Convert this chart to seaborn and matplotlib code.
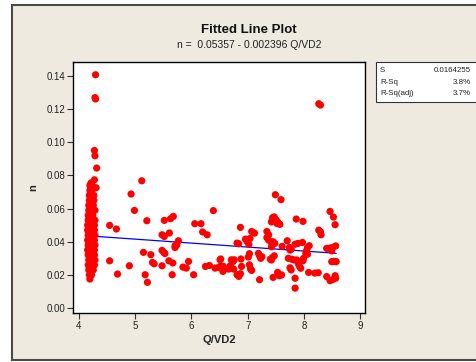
import matplotlib
matplotlib.use("Agg")
import matplotlib.pyplot as plt
import matplotlib.patches as mpatches
import numpy as np
import pandas as pd
import seaborn as sns

# ---- data ----
cluster_x = [4.20,
             4.19, 4.23,
             4.18, 4.22, 4.26,
             4.17, 4.21, 4.25, 4.28,
             4.18, 4.22, 4.26, 4.29,
             4.17, 4.21, 4.25, 4.28,
             4.16, 4.20, 4.24, 4.28,
             4.17, 4.21, 4.25, 4.29,
             4.16, 4.20, 4.24, 4.28,
             4.17, 4.21, 4.25, 4.29,
             4.16, 4.20, 4.24, 4.28,
             4.16, 4.20, 4.24, 4.28,
             4.17, 4.21, 4.25, 4.29,
             4.17, 4.21, 4.25,
             4.18, 4.22, 4.26, 4.29,
             4.18, 4.22, 4.26,
             4.19, 4.23, 4.27,
             4.19, 4.23, 4.27,
             4.20, 4.24,
             4.20, 4.24,
             4.22]
cluster_y = [0.0175,
             0.020, 0.020,
             0.023, 0.023, 0.023,
             0.026, 0.026, 0.026, 0.026,
             0.029, 0.029, 0.029, 0.029,
             0.032, 0.032, 0.032, 0.032,
             0.035, 0.035, 0.035, 0.035,
             0.038, 0.038, 0.038, 0.038,
             0.041, 0.041, 0.041, 0.041,
             0.044, 0.044, 0.044, 0.044,
             0.047, 0.047, 0.047, 0.047,
             0.050, 0.050, 0.050, 0.050,
             0.053, 0.053, 0.053, 0.053,
             0.056, 0.056, 0.056,
             0.059, 0.059, 0.059, 0.059,
             0.062, 0.062, 0.062,
             0.065, 0.065, 0.065,
             0.068, 0.068, 0.068,
             0.071, 0.071,
             0.074, 0.074,
             0.0755]

scatter_x = [4.30, 4.29, 4.30, 4.28, 4.29, 4.32, 4.28, 4.31,
             4.55, 4.67, 4.55, 4.69, 4.90, 4.93, 4.99, 5.12, 5.21, 5.15, 5.18, 5.22,
             5.28, 5.31, 5.34, 5.48, 5.52, 5.52, 5.48, 5.51, 5.53, 5.48, 5.60, 5.61,
             5.63, 5.68, 5.66, 5.67, 5.71, 5.71, 5.74, 5.77, 5.85, 5.91, 5.95, 6.04,
             6.06, 6.17, 6.20, 6.28, 6.25, 6.32,
             6.39, 6.42, 6.48, 6.51, 6.52, 6.57, 6.56, 6.66, 6.71, 6.76, 6.75, 6.81,
             6.87, 6.84, 6.88, 6.89, 6.87, 6.81, 6.84, 6.96, 6.99, 7.02, 7.04, 7.07,
             7.12, 7.03, 7.01, 7.03, 7.05, 7.07, 7.19, 7.21, 7.23, 7.25, 7.21, 7.34,
             7.37, 7.34, 7.37, 7.42, 7.45, 7.48, 7.42, 7.42, 7.44, 7.47, 7.45, 7.51,
             7.54, 7.57, 7.52, 7.49, 7.59, 7.40, 7.42, 7.44, 7.47, 7.45, 7.53, 7.56,
             7.60, 7.70, 7.61, 7.74, 7.77, 7.75, 7.72, 7.78, 7.82, 7.75, 7.77, 7.84,
             7.84, 7.86, 7.98, 7.84, 7.89, 7.97, 7.87, 7.90, 7.92, 7.94, 7.99, 7.98,
             8.04, 8.06, 8.09, 8.03, 8.06, 8.08, 8.19, 8.25, 8.26, 8.29, 8.26, 8.29,
             8.30, 8.40, 8.46, 8.51, 8.56, 8.49, 8.46, 8.52, 8.55, 8.49, 8.53, 8.57,
             8.40, 8.46, 8.51, 8.56, 8.55, 6.52, 6.69, 6.74]
scatter_y = [0.1408, 0.1270, 0.1262, 0.0951, 0.0919, 0.0845, 0.0774, 0.0726,
             0.0499, 0.0477, 0.0285, 0.0205, 0.0255, 0.0688, 0.0589, 0.0768, 0.0527, 0.0336, 0.0201, 0.0155,
             0.0322, 0.0275, 0.0267, 0.0442, 0.0432, 0.0529, 0.0348, 0.0336, 0.0329, 0.0255, 0.0285, 0.0453,
             0.0539, 0.0553, 0.0201, 0.0272, 0.0376, 0.0365, 0.0380, 0.0406, 0.0247, 0.0241, 0.0281, 0.0201,
             0.0509, 0.0509, 0.0459, 0.0442, 0.0251, 0.0257,
             0.0588, 0.0241, 0.0245, 0.0291, 0.0296, 0.0251, 0.0221, 0.0235, 0.0291, 0.0291, 0.0235, 0.0201,
             0.0207, 0.0191, 0.0296, 0.0251, 0.0487, 0.0392, 0.0388, 0.0416, 0.0400, 0.0384, 0.0420, 0.0462,
             0.0452, 0.0328, 0.0308, 0.0261, 0.0235, 0.0227, 0.0330, 0.0315, 0.0300, 0.0310, 0.0171, 0.0462,
             0.0442, 0.0425, 0.0410, 0.0395, 0.0400, 0.0390, 0.0370, 0.0520, 0.0545, 0.0550, 0.0525, 0.0530,
             0.0515, 0.0505, 0.0510, 0.0684, 0.0654, 0.0295, 0.0290, 0.0305, 0.0315, 0.0185, 0.0215, 0.0195,
             0.0200, 0.0406, 0.0372, 0.0366, 0.0355, 0.0350, 0.0300, 0.0295, 0.0290, 0.0243, 0.0230, 0.0180,
             0.0120, 0.0537, 0.0523, 0.0385, 0.0390, 0.0396, 0.0290, 0.0265, 0.0250, 0.0240, 0.0300, 0.0285,
             0.0345, 0.0365, 0.0376, 0.0330, 0.0325, 0.0215, 0.0211, 0.0213, 0.1233, 0.1225, 0.0470, 0.0460,
             0.0442, 0.0360, 0.0362, 0.0366, 0.0375, 0.0345, 0.0583, 0.0549, 0.0503, 0.0280, 0.0282, 0.0280,
             0.0190, 0.0165, 0.0172, 0.0180, 0.0195, 0.0253, 0.0255, 0.0281]

intercept = 0.05357
slope = -0.002396
title = "Fitted Line Plot"
subtitle = "n =  0.05357 - 0.002396 Q/VD2"
stat_labels = ["S", "R-Sq", "R-Sq(adj)"]
stat_values = ["0.0164255", "3.8%", "3.7%"]
x_ticks = [4, 5, 6, 7, 8, 9]
y_ticks = [0.00, 0.02, 0.04, 0.06, 0.08, 0.10, 0.12, 0.14]

df = pd.DataFrame({"x": cluster_x + scatter_x, "y": cluster_y + scatter_y})

sns.set_style("ticks")
plt.rcParams['font.family'] = ['Liberation Sans', 'DejaVu Sans']

W, H = 476, 362
fig = plt.figure(figsize=(W / 100, H / 100), dpi=100, facecolor="white")

# beige panel with dark border
panel = mpatches.Rectangle((12 / W, 1 - 360 / H), (W + 10 - 12) / W, (360 - 5) / H,
                           transform=fig.transFigure, facecolor="#EEEAE0",
                           edgecolor="#4a4a4a", linewidth=1.5, zorder=-10)
fig.patches.append(panel)

ax = fig.add_axes([73 / W, 1 - 313 / H, (365 - 73) / W, (313 - 62) / H])
ax.set_zorder(1)
ax.set_facecolor("white")

xs = np.linspace(min(df["x"]), max(df["x"]), 50)
ax.plot(xs, intercept + slope * xs, color="#0000FF", lw=0.9, zorder=1)
sns.scatterplot(data=df, x="x", y="y", ax=ax, color="#FF0000", s=27,
                edgecolor="none", linewidth=0, zorder=2)

ax.set_xlim(3.9, 9.08)
ax.set_ylim(-0.003, 0.1485)
ax.set_xticks(x_ticks)
ax.set_xticklabels([str(t) for t in x_ticks])
ax.set_yticks(y_ticks)
ax.set_yticklabels([f"{t:.2f}" for t in y_ticks])
ax.tick_params(axis="both", labelsize=7, length=4, width=0.8, color="#333333",
               labelcolor="#222222", pad=1.5)
for sp in ax.spines.values():
    sp.set_linewidth(1.0)
    sp.set_color("black")
ax.set_xlabel("Q/VD2", fontsize=8, fontweight="bold", labelpad=3)
ax.set_ylabel("n", fontsize=8, fontweight="bold")
ax.yaxis.set_label_coords((38 - 73) / 292, (313 - 188) / 251)

fig.text(249 / W, 1 - 30 / H, title, ha="center", va="center",
         fontsize=9.5, fontweight="bold", color="#111111")
fig.text(249 / W, 1 - 45 / H, subtitle, ha="center", va="center",
         fontsize=7.5, color="#222222")

# statistics box
box = mpatches.Rectangle((376 / W, 1 - 102 / H), (W + 10 - 376) / W, 40 / H,
                         transform=fig.transFigure, facecolor="white",
                         edgecolor="#333333", linewidth=0.8, zorder=1)
fig.patches.append(box)
for i, (lab, val) in enumerate(zip(stat_labels, stat_values)):
    yy = 1 - (70.5 + 11.5 * i) / H
    fig.text(380 / W, yy, lab, ha="left", va="center", fontsize=5.7, color="#222222")
    fig.text(471 / W, yy, val, ha="right", va="center", fontsize=5.7, color="#222222")

fig.savefig("out.png", dpi=100, facecolor="white")
